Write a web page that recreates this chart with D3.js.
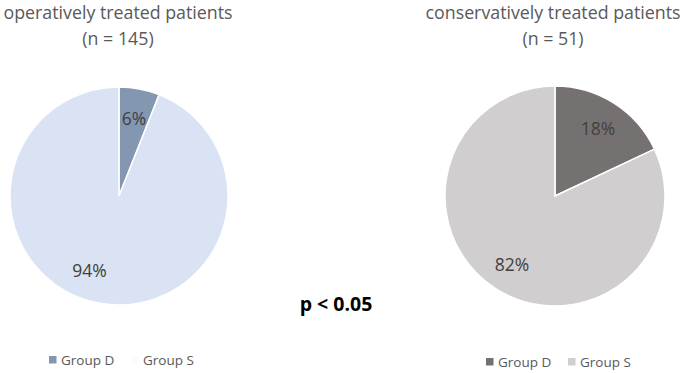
<!DOCTYPE html>
<html>
<head>
<meta charset="utf-8">
<script src="https://cdn.jsdelivr.net/npm/d3@7"></script>
<style>
  body { margin: 0; background: #fff; }
  svg text { font-family: "Open Sans", "Liberation Sans", sans-serif; }
</style>
</head>
<body>
<div class="chart-container"></div>
<script>
// data
const groups = ["Group D", "Group S"];
const operativeValues = [6, 94];
const conservativeValues = [18, 82];
const titles = ["operatively treated patients", "conservatively treated patients"];
const subtitles = ["(n = 145)", "(n = 51)"];
const pValue = "p < 0.05";

const width = 685;
const height = 373;

const svg = d3.select('.chart-container').append("svg")
    .attr("width", width)
    .attr("height", height);

// layout per pie; labelNudge = extra rotation (radians) for each slice label, like Excel's best fit
const pies = [
    { values: operativeValues, cx: 119, cy: 196, r: 109, colors: ["#8497b0", "#dae3f3"], titleX: 118,
      legendX: 49, legendY: 360, legendGap: 82, labelNudge: [0, 0.19] },
    { values: conservativeValues, cx: 555, cy: 196, r: 110, colors: ["#767171", "#d0cece"], titleX: 553,
      legendX: 486, legendY: 362, legendGap: 82, labelNudge: [0, 0] }
];

const pie = d3.pie().sort(null).value(d => d);

pies.forEach((p, i) => {
    const g = svg.append("g").attr("transform", `translate(${p.cx},${p.cy})`);
    const color = d3.scaleOrdinal().domain(groups).range(p.colors);
    const arc = d3.arc().innerRadius(0).outerRadius(p.r);
    const labelArc = d3.arc().innerRadius(p.r * 0.73).outerRadius(p.r * 0.73);
    const arcs = pie(p.values);

    g.selectAll("path")
        .data(arcs)
        .enter()
        .append("path")
        .attr("d", arc)
        .attr("fill", (d, j) => color(groups[j]))
        .attr("stroke", "#fff")
        .attr("stroke-width", 1.5);

    g.selectAll("text.lbl")
        .data(arcs)
        .enter()
        .append("text")
        .attr("class", "lbl")
        .attr("transform", (d, j) => {
            const n = p.labelNudge[j];
            return `translate(${labelArc.centroid({startAngle: d.startAngle + n, endAngle: d.endAngle + n})})`;
        })
        .attr("text-anchor", "middle")
        .attr("dominant-baseline", "central")
        .attr("font-size", 17.5)
        .attr("fill", "#404040")
        .text(d => d.data + "%");

    // titles
    svg.append("text")
        .attr("x", p.titleX).attr("y", 19)
        .attr("text-anchor", "middle")
        .attr("font-size", 17.8)
        .attr("fill", "#595959")
        .text(titles[i]);
    svg.append("text")
        .attr("x", p.titleX).attr("y", 45)
        .attr("text-anchor", "middle")
        .attr("font-size", 17.8)
        .attr("fill", "#595959")
        .text(subtitles[i]);

    // legend
    const lg = svg.append("g").attr("transform", `translate(${p.legendX},${p.legendY})`);
    groups.forEach((name, j) => {
        const item = lg.append("g").attr("transform", `translate(${j * p.legendGap},0)`);
        item.append("rect")
            .attr("x", 0).attr("y", -4)
            .attr("width", 7.5).attr("height", 7.5)
            .attr("fill", i === 0 && j === 1 ? "#fbfcfe" : color(name));
        item.append("text")
            .attr("x", 12).attr("y", 0)
            .attr("dominant-baseline", "central")
            .attr("font-size", 13.5)
            .attr("fill", "#595959")
            .text(name);
    });
});

svg.append("text")
    .attr("x", 336).attr("y", 303)
    .attr("text-anchor", "middle")
    .attr("dominant-baseline", "central")
    .attr("font-size", 19.5)
    .attr("font-weight", "bold")
    .attr("fill", "#000")
    .text(pValue);
</script>
</body>
</html>
